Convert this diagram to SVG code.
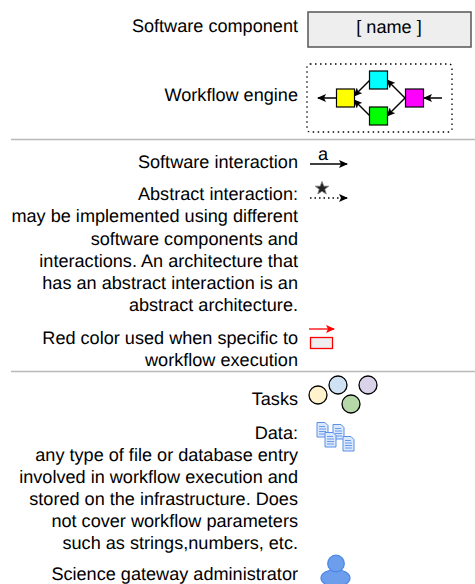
<svg xmlns="http://www.w3.org/2000/svg" width="475" height="584" viewBox="0 0 475 584">
<style>
text{font-family:"Liberation Sans",Arial,sans-serif;font-size:18.13px;fill:#000;text-anchor:end;text-rendering:geometricPrecision}
.sep{stroke:#b8b8b8;stroke-width:1.3;fill:none}
.c{stroke:#000;stroke-width:1.5;fill:none}
.sq{stroke:#000;stroke-width:1.2}
.t{stroke:#000;stroke-width:1.3}
.doc{fill:#dae8fc;stroke:#5b8fe8;stroke-width:1}
.docl{stroke:#5b8fe8;stroke-width:.9;fill:none}
</style>
<defs>
<marker id="a" markerUnits="userSpaceOnUse" markerWidth="10" markerHeight="8" refX="8" refY="4" orient="auto"><path d="M0 0L9 4L0 8L2 4Z" fill="#000"/></marker>
<marker id="r" markerUnits="userSpaceOnUse" markerWidth="10" markerHeight="8" refX="8" refY="4" orient="auto"><path d="M0 0L9 4L0 8L2 4Z" fill="#f00"/></marker>
<g id="d"><path class="doc" d="M0 0H8L11 3V14.500H0Z"/><path class="docl" d="M2 4H8M2 6.500H9M2 9H9M2 11.500H9"/></g>
</defs>
<g id="separators"><path class="sep" d="M11 139.500H475M11 371.500H475"/></g>
<g id="software-component"><text x="298" y="32">Software component</text><rect x="308" y="12" width="163" height="35" fill="#eee" stroke="#555" stroke-width="1.5"/><text x="389" y="33" style="text-anchor:middle">[ name ]</text></g>
<g id="workflow-engine"><text x="298" y="101">Workflow engine</text><rect x="307" y="64" width="145" height="68" rx="3" fill="none" stroke="#000" stroke-width="1.3" stroke-dasharray="1.500 3.500"/></g>
<g id="software-interaction"><text x="298" y="168">Software interaction</text><text x="323" y="160" style="text-anchor:middle">a</text></g>
<g id="abstract-interaction"><text x="298" y="200">Abstract interaction:</text><text x="298" y="222">may be implemented using different</text><text x="298" y="245">software components and</text><text x="298" y="267">interactions. An architecture that</text><text x="298" y="289">has an abstract interaction is an</text><text x="298" y="311">abstract architecture.</text>
<path d="M322 181.500l1.800 4.700h4.900l-3.900 3 1.400 4.800-4.200-2.800-4.200 2.800 1.400-4.800-3.900-3h4.900z" fill="#222" stroke="#777" stroke-width=".8"/></g>
<g id="red-color"><text x="298" y="344">Red color used when specific to</text><text x="298" y="366">workflow execution</text><rect x="310.500" y="337.500" width="22" height="11" fill="#eee" stroke="#f00" stroke-width="1.300"/></g>
<g id="tasks"><text x="298" y="405">Tasks</text><circle class="t" cx="318" cy="395" r="9" fill="#fff2cc"/><circle class="t" cx="338" cy="385" r="9" fill="#cfe2f3"/><circle class="t" cx="351" cy="404" r="9" fill="#b6d7a8"/><circle class="t" cx="368" cy="385" r="9" fill="#d9d2e9"/></g>
<g id="data"><text x="298" y="439">Data:</text><text x="298" y="461">any type of file or database entry</text><text x="298" y="483">involved in workflow execution and</text><text x="298" y="505">stored on the infrastructure. Does</text><text x="298" y="527">not cover workflow parameters</text><text x="298" y="549">such as strings,numbers, etc.</text>
<use href="#d" x="317" y="422.500"/><use href="#d" x="333" y="424.500"/><use href="#d" x="325" y="432.500"/><use href="#d" x="343" y="436.500"/></g>
<g id="administrator"><text x="298" y="580">Science gateway administrator</text><ellipse cx="335.500" cy="578" rx="14.500" ry="8.500" fill="#6d9eeb" stroke="#4a86e8" stroke-width="1.200"/><circle cx="336" cy="563.500" r="8.300" fill="#6d9eeb" stroke="#4a86e8" stroke-width="1.200"/></g>
<g id="connectors">
<path class="c" d="M337 98H318" marker-end="url(#a)"/><path class="c" d="M370 80L354 96" marker-end="url(#a)"/><path class="c" d="M370 116L354 100" marker-end="url(#a)"/><path class="c" d="M405 98L387 80" marker-end="url(#a)"/><path class="c" d="M405 98L387 116" marker-end="url(#a)"/><path class="c" d="M442 98H424" marker-end="url(#a)"/>
<path class="c" d="M310 164H347" marker-end="url(#a)"/><path class="c" d="M310 198H347" stroke-dasharray="1.500 3" marker-end="url(#a)"/><path d="M309 329H334" fill="none" stroke="#f00" stroke-width="1.300" marker-end="url(#r)"/>
</g>
<g id="engine-steps"><rect class="sq" x="336.500" y="89" width="18" height="18" fill="#ff0"/><rect class="sq" x="369.500" y="71" width="18" height="18" fill="#0ff"/><rect class="sq" x="369.500" y="107" width="18" height="18" fill="#0f0"/><rect class="sq" x="405.500" y="89" width="18" height="18" fill="#f0f"/></g>
</svg>
